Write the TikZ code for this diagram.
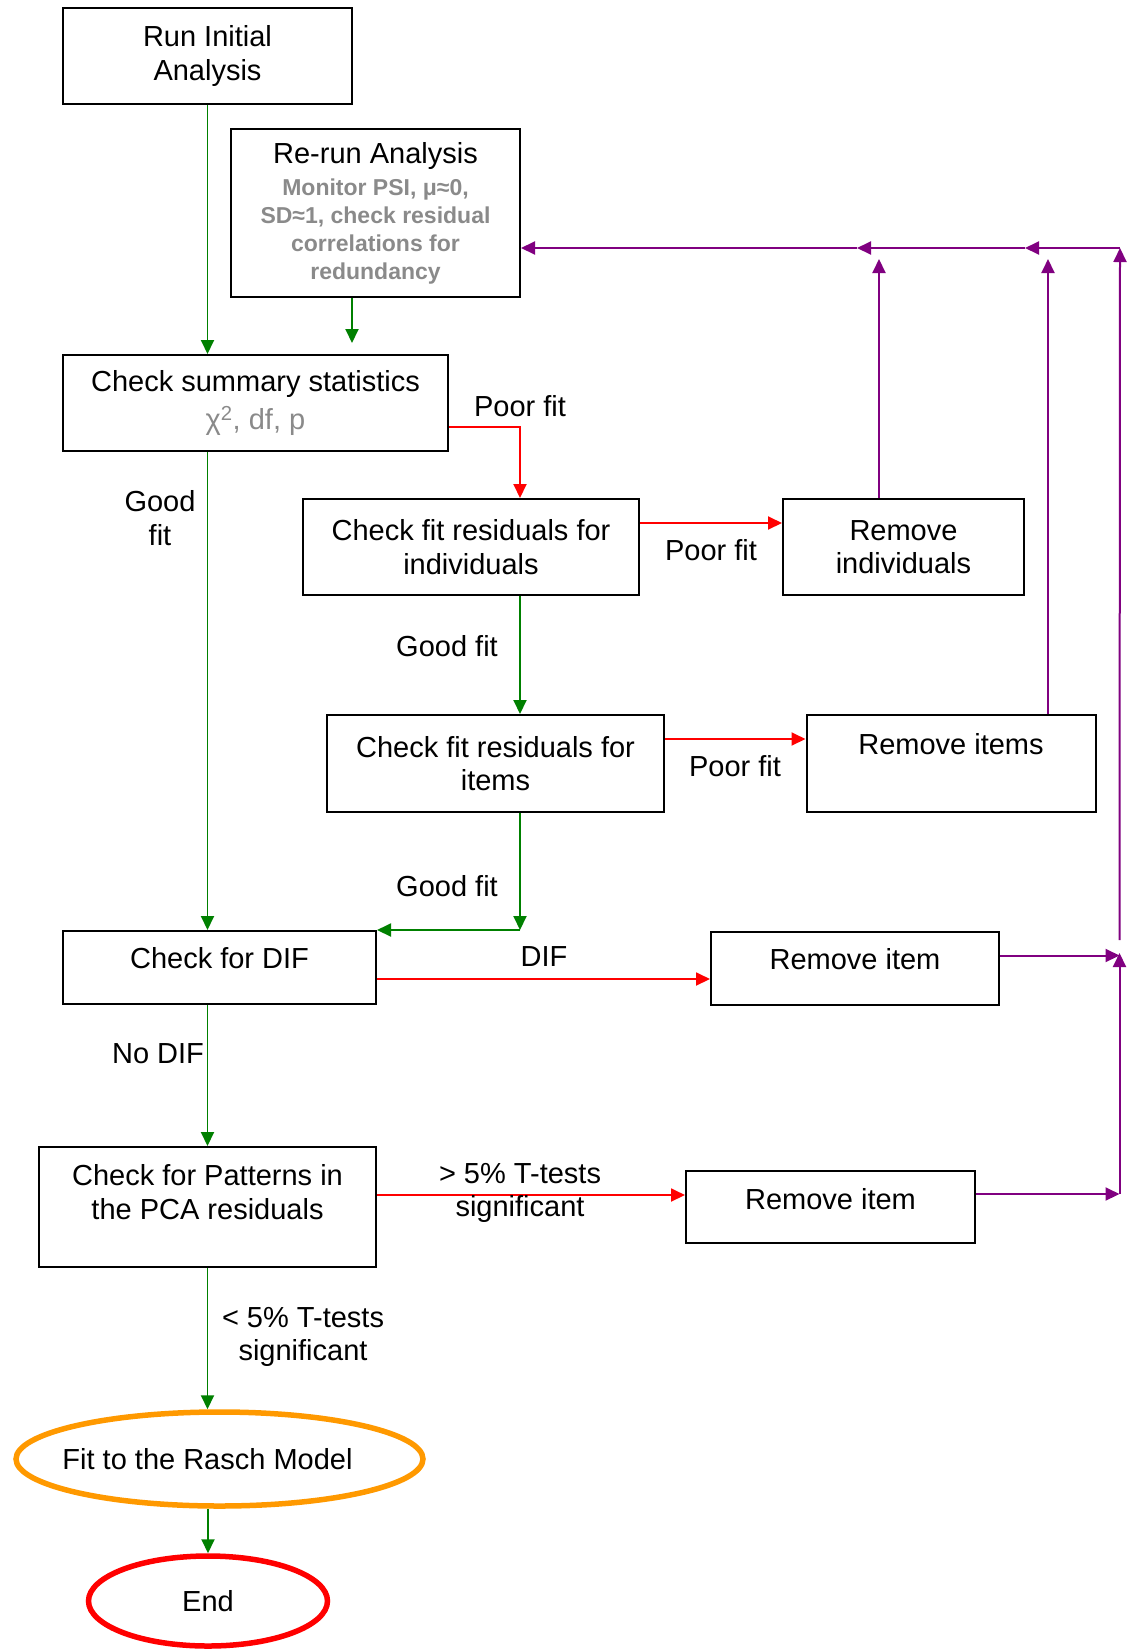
\documentclass[tikz,border=0pt]{standalone}
\usepackage{fontspec}
\setmainfont{Liberation Sans}
\usetikzlibrary{shapes.geometric,arrows.meta}

\definecolor{flowgreen}{HTML}{008000}
\definecolor{flowred}{HTML}{FF0000}
\definecolor{flowpurple}{HTML}{800080}
\definecolor{flowgrey}{HTML}{8A8A8A}
\definecolor{floworange}{HTML}{FF9900}

\newcommand{\flowtext}{\fontsize{29}{33.5}\selectfont\mdseries}
\newcommand{\flownote}{\fontsize{23}{28}\selectfont\bfseries}

\tikzset{
  box/.style={draw=black, line width=2pt, rectangle, inner sep=0pt,
              align=center, font=\flowtext},
  oval/.style={ellipse, line width=5.5pt, inner sep=0pt, font=\flowtext},
  lbl/.style={inner sep=0pt, align=center, font=\flowtext},
  flowtip/.style={-{Triangle[length=14pt,width=13pt]}},
  passline/.style={draw=flowgreen, line width=1.9pt, flowtip},
  failline/.style={draw=flowred, line width=1.9pt, flowtip},
  loopline/.style={draw=flowpurple, line width=2pt, flowtip},
}

\begin{document}
\begin{tikzpicture}[x=1pt,y=-1pt]
\useasboundingbox (0,0) rectangle (1136,1649);

% process boxes
\node[box, minimum width=289pt, minimum height=96pt] (ria) at (207.5,56)
  {Run Initial\\Analysis};
\node[box, font=\flownote, text=flowgrey, minimum width=289pt, minimum height=168pt]
  (rerun) at (375.5,213)
  {{\flowtext\color{black}Re-run Analysis}\\[4pt]Monitor PSI, μ≈0,\\SD≈1, check residual\\correlations for\\redundancy};
\node[box, minimum width=385pt, minimum height=96pt] (csum) at (255.5,403)
  {Check summary statistics\\[4pt]{\color{flowgrey}χ\textsuperscript{2}, df, p}};
\node[box, minimum width=336pt, minimum height=96pt] (cfi) at (471,547)
  {Check fit residuals for\\individuals};
\node[box, minimum width=241pt, minimum height=96pt] (rmi) at (903.5,547)
  {Remove\\individuals};
\node[box, minimum width=337pt, minimum height=97pt] (cfit) at (495.5,763.5)
  {Check fit residuals for\\items};
\node[box, minimum width=289pt, minimum height=97pt, text depth=40pt] (rmit) at (951,763.5)
  {Remove items};
\node[box, minimum width=313pt, minimum height=73pt, text depth=19pt] (dif) at (219.5,967.5)
  {Check for DIF};
\node[box, minimum width=288pt, minimum height=73pt, text depth=19pt] (rm1) at (855,968)
  {Remove item};
\node[box, minimum width=337pt, minimum height=120pt, text depth=30pt] (pca) at (207.5,1207)
  {Check for Patterns in\\the PCA residuals};
\node[box, minimum width=289pt, minimum height=72pt, text depth=16pt] (rm2) at (830.5,1207)
  {Remove item};

% terminal ovals (text set in a zero-width box so the oval keeps its size)
\node[oval, draw=floworange, minimum width=407pt, minimum height=94pt] (rasch) at (219.5,1459)
  {\makebox[0pt]{Fit to the Rasch Model\hspace*{24pt}}};
\node[oval, draw=flowred, minimum width=239pt, minimum height=90pt] (stop) at (208,1601)
  {\makebox[0pt]{End}};

% routing points
\coordinate (trunk) at (520,427);
\coordinate (rrin) at (352,343);
\coordinate (bus) at (1120,248);
\coordinate (j1) at (1025,248);
\coordinate (j2) at (857,248);
\coordinate (upi) at (879,259);
\coordinate (upt) at (1048,259);
\coordinate (rail) at (1119.5,953);
\coordinate (railtop) at (1119.5,940);
\coordinate (fi) at ([yshift=24pt]cfi.east);
\coordinate (ft) at ([yshift=24.5pt]cfit.east);
\coordinate (fd) at ([yshift=-11.5pt]dif.east);
\coordinate (fp) at ([yshift=12pt]pca.east);
\coordinate (o1) at ([yshift=12.5pt]rm1.east);
\coordinate (o2) at ([yshift=13pt]rm2.east);

% good-fit path
\draw[passline] (ria.south) -- (ria.south |- csum.north);
\draw[passline] (rrin |- rerun.south) -- (rrin);
\draw[passline] (ria.south |- csum.south) -- (ria.south |- dif.north);
\draw[passline] (trunk |- cfi.south) -- (trunk |- cfit.north);
\draw[passline] (trunk |- cfit.south) -- (trunk |- dif.north);
\draw[passline] (trunk |- dif.north) -- (dif.north east);
\draw[passline] (ria.south |- dif.south) -- (ria.south |- pca.north);
\draw[passline] (pca.south) -- (pca.south |- rasch.north);
\draw[passline] (stop.north |- rasch.south) -- (stop.north);

% poor-fit branches
\draw[failline] (csum.east |- trunk) -| (trunk |- cfi.north);
\draw[failline] (fi) -- (fi -| rmi.west);
\draw[failline] (ft) -- (ft -| rmit.west);
\draw[failline] (fd) -- (fd -| rm1.west);
\draw[failline] (fp) -- (fp -| rm2.west);

% loop back to re-run
\draw[loopline] (upi |- rmi.north) -- (upi);
\draw[loopline] (upt |- rmit.north) -- (upt);
\draw[loopline] (o1) -- (o1 -| rail);
\draw[loopline] (o2) -- (o2 -| rail);
\draw[loopline] (o2 -| rail) -- (rail);
\draw[loopline] (railtop) -- (bus);
\draw[loopline] (bus) -- (j1);
\draw[loopline] (j1) -- (j2);
\draw[loopline] (j2) -- (j2 -| rerun.east);

% connector labels
\node[lbl] (lpf1) at (520,406) {Poor fit};
\node[lbl] (lgf1) at (160,518) {Good\\fit};
\node[lbl] (lpf2) at (711,550) {Poor fit};
\node[lbl] (lgf2) at (447,646) {Good fit};
\node[lbl] (lpf3) at (735,766) {Poor fit};
\node[lbl] (lgf3) at (447,886) {Good fit};
\node[lbl] (ldif) at (544,957) {DIF};
\node[lbl] (lnodif) at (158,1054) {No DIF};
\node[lbl] (lmore) at (520,1193) {> 5\% T-tests\\significant};
\node[lbl] (lless) at (303,1337) {< 5\% T-tests\\significant};
\end{tikzpicture}
\end{document}
